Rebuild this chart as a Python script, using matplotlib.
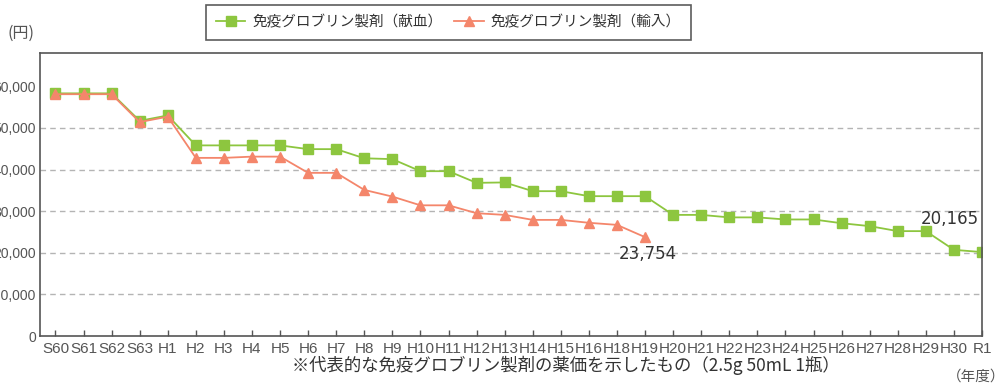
import matplotlib
matplotlib.use("Agg")
import matplotlib.pyplot as plt

# 年度ラベル（H17 は欠番）
years = ["S60", "S61", "S62", "S63",
         "H1", "H2", "H3", "H4", "H5", "H6", "H7", "H8", "H9", "H10",
         "H11", "H12", "H13", "H14", "H15", "H16", "H18", "H19", "H20",
         "H21", "H22", "H23", "H24", "H25", "H26", "H27", "H28", "H29",
         "H30", "R1"]

# 免疫グロブリン製剤（献血）の薬価（円）
donated = [58300, 58300, 58300, 51700, 53000, 45800, 45800, 45800, 45800,
           44900, 44900, 42700, 42500, 39600, 39600, 36800, 36900, 34800,
           34800, 33600, 33600, 33600, 29100, 29100, 28500, 28500, 28000,
           28000, 27100, 26400, 25200, 25200, 20700, 20165]

# 免疫グロブリン製剤（輸入）の薬価（円）, H19 まで
imported = [58100, 58100, 58100, 51400, 52700, 42800, 42800, 43100, 43100,
            39200, 39200, 35100, 33500, 31400, 31400, 29500, 29100, 27900,
            27900, 27200, 26700, 23754]

y_ticks = [0, 10000, 20000, 30000, 40000, 50000, 60000]

GREEN = "#8dc63f"
ORANGE = "#f4866b"
GRAY = "#555555"
JP = ["Noto Sans CJK JP", "DejaVu Sans"]
NUM_FONT = "Liberation Sans"

fig = plt.figure(figsize=(10.06, 3.85), dpi=100)
ax = fig.add_axes([40 / 1006, 49 / 385, 942 / 1006, 283 / 385])

ax.plot(years, donated, color=GREEN, lw=1.3, marker="s", ms=6.5,
        mfc=GREEN, mec=GREEN, label="免疫グロブリン製剤（献血）")
ax.plot(years[:len(imported)], imported, color=ORANGE, lw=1.3, marker="^",
        ms=7.5, mfc=ORANGE, mec=ORANGE, label="免疫グロブリン製剤（輸入）")

ax.set_xlim(-0.55, len(years) - 1)
ax.set_ylim(0, 68000)
ax.set_yticks(y_ticks)
ax.set_yticklabels([f"{v:,}" for v in y_ticks])

# 破線の目盛線は 10,000〜50,000 のみ
ax.yaxis.grid(True, linestyle=(0, (4, 3)), color="#b4b4b4", lw=1.0)
grid = ax.get_ygridlines()
grid[0].set_visible(False)
grid[-1].set_visible(False)
ax.set_axisbelow(True)

for s in ax.spines.values():
    s.set_color(GRAY)
    s.set_linewidth(1.2)

ax.tick_params(axis="x", direction="in", length=4, width=1, color=GRAY,
               pad=4, labelsize=11, labelcolor=GRAY)
ax.tick_params(axis="y", length=0, pad=3, labelsize=10, labelcolor=GRAY)
for lab in ax.get_xticklabels() + ax.get_yticklabels():
    lab.set_fontfamily(NUM_FONT)

# 最終値の注記
ax.annotate(f"{imported[-1]:,}", xy=(years[len(imported) - 1], imported[-1]),
            xytext=(2, -6), textcoords="offset points", ha="center", va="top",
            fontsize=12, color="#333333")
ax.annotate(f"{donated[-1]:,}", xy=(years[-1], donated[-1]),
            xytext=(-23, 24), textcoords="offset points", ha="center",
            va="center", fontsize=12, color="#333333")

fig.text(21 / 1006, 1 - 33 / 385, "(円)", ha="center", va="center",
         fontsize=11.5, color=GRAY, family=JP)
fig.text(976 / 1006, 1 - 377 / 385, "（年度）", ha="center", va="center",
         fontsize=10.5, color=GRAY, family=JP)
fig.text(566 / 1006, 1 - 365 / 385,
         "※代表的な免疫グロブリン製剤の薬価を示したもの（2.5g 50mL 1瓶）",
         ha="center", va="center", fontsize=12.5, color="#333333", family=JP)

leg = fig.legend(loc="center", bbox_to_anchor=(448.5 / 1006, 1 - 22.5 / 385),
                 ncol=2, frameon=True, fancybox=False, edgecolor="#333333",
                 handlelength=2.0, handletextpad=0.5, columnspacing=0.8,
                 borderpad=0.7, prop={"family": JP, "size": 10.5})
leg.get_frame().set_linewidth(1.2)
for t in leg.get_texts():
    t.set_color("#333333")

fig.savefig("out.png", dpi=100)
